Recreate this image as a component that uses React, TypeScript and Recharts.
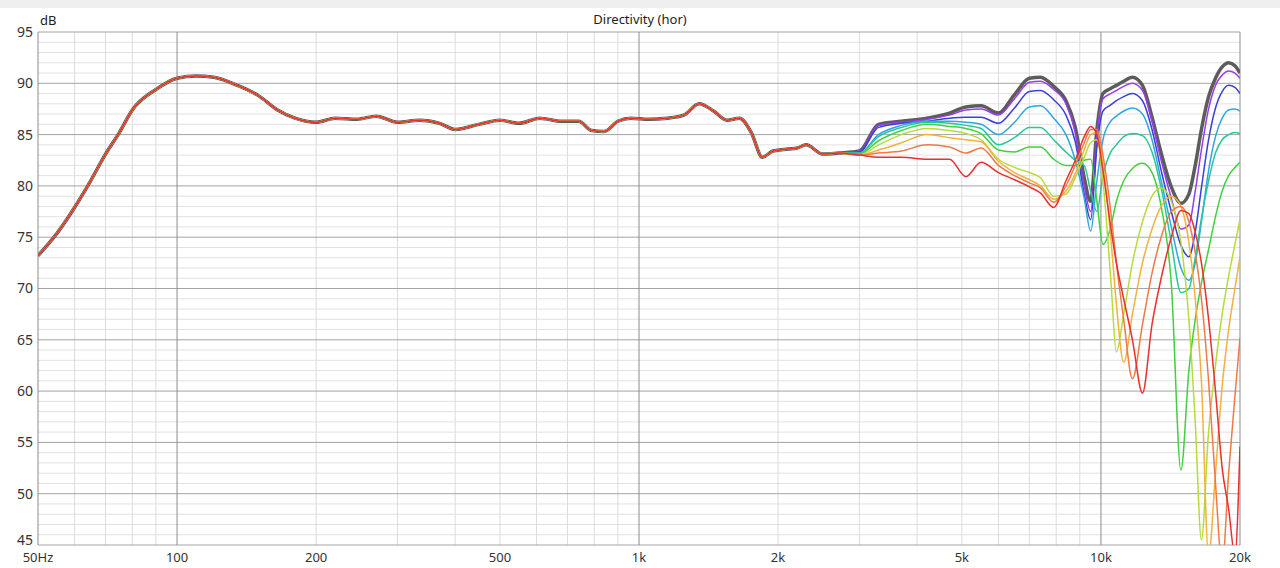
import { LineChart, Line, XAxis, YAxis, ReferenceLine } from "recharts"

// shared part below ~2.8k, where all angles overlap
const LOW_FREQS = [50, 55, 60, 65, 70, 75, 80, 90, 100, 110, 120, 135, 150, 165, 180, 200, 220, 245, 270, 300, 335, 370, 400, 450, 500, 550, 610, 680, 740, 790, 840, 900, 960, 1050, 1150, 1250, 1350, 1450, 1550, 1650, 1750, 1850, 1950, 2100, 2200, 2300, 2500, 2700]
const LOW_DB = [73.2, 75.4, 77.9, 80.5, 83.1, 85.2, 87.4, 89.4, 90.5, 90.7, 90.6, 89.8, 88.8, 87.4, 86.6, 86.2, 86.6, 86.5, 86.8, 86.2, 86.4, 86.1, 85.5, 86.0, 86.4, 86.1, 86.6, 86.3, 86.3, 85.4, 85.3, 86.3, 86.6, 86.5, 86.6, 86.9, 88.0, 87.3, 86.4, 86.6, 85.2, 82.8, 83.4, 83.6, 83.7, 84.0, 83.1, 83.2]

const HIGH_FREQS = [3000, 3300, 3700, 4200, 4700, 5100, 5500, 6000, 6500, 7000, 7400, 7900, 8400, 8800, 9200, 9500, 9800, 10100, 10500, 10800, 11200, 11700, 12300, 12900, 13500, 14200, 14900, 15500, 16000, 16500, 17100, 17700, 18300, 18900, 19500, 20000]

const DEG_0 = [83.4, 86.0, 86.3, 86.6, 87.1, 87.7, 87.8, 87.1, 88.9, 90.5, 90.6, 89.7, 88.3, 85.7, 80.8, 78.5, 85.5, 89.0, 89.5, 89.8, 90.2, 90.6, 89.8, 86.7, 83.2, 79.9, 78.3, 79.2, 82.0, 85.5, 88.7, 90.5, 91.6, 92.0, 91.7, 91.0]
const DEG_10 = [83.4, 85.9, 86.2, 86.5, 86.9, 87.4, 87.5, 86.9, 88.5, 90.1, 90.2, 89.4, 88.0, 85.2, 80.0, 77.5, 85.0, 88.5, 89.0, 89.3, 89.7, 90.0, 89.3, 86.3, 82.5, 78.8, 75.8, 76.2, 79.5, 83.5, 87.5, 89.8, 90.8, 91.2, 91.0, 90.5]
const DEG_20 = [83.3, 85.7, 86.1, 86.3, 86.6, 86.7, 86.7, 86.1, 87.6, 89.2, 89.3, 88.4, 86.9, 84.3, 79.2, 76.7, 83.8, 87.3, 87.9, 88.3, 88.7, 89.0, 88.3, 85.5, 81.5, 77.5, 74.2, 73.1, 75.5, 79.8, 84.5, 87.6, 89.2, 89.8, 89.6, 89.0]
const DEG_30 = [83.2, 85.0, 85.9, 86.3, 86.3, 86.2, 86.0, 85.0, 86.2, 87.7, 87.8, 86.6, 85.0, 82.5, 78.8, 75.6, 80.5, 84.5, 86.3, 86.8, 87.3, 87.6, 87.0, 84.5, 80.5, 76.0, 72.0, 70.8, 72.5, 76.5, 81.5, 84.8, 86.6, 87.4, 87.5, 87.3]
const DEG_40 = [83.2, 84.8, 85.7, 86.2, 86.1, 85.9, 85.6, 84.0, 84.7, 85.7, 85.7, 84.5, 83.3, 82.5, 82.0, 79.5, 77.5, 81.0, 83.3, 84.0, 84.8, 85.1, 84.9, 83.3, 79.8, 74.5, 69.6, 70.0, 73.0, 76.8, 80.5, 83.2, 84.5, 85.0, 85.2, 85.1]
const DEG_50 = [83.1, 84.4, 85.4, 86.0, 85.8, 85.6, 85.1, 83.5, 83.3, 83.8, 83.8, 82.6, 82.0, 82.0, 82.5, 82.6, 78.5, 74.3, 76.0, 78.5, 80.5, 81.7, 82.2, 81.3, 78.0, 70.5, 52.3, 62.0, 67.0, 70.5, 73.8, 77.0, 79.5, 81.0, 81.8, 82.3]
const DEG_60 = [83.0, 84.0, 85.0, 85.6, 85.4, 85.1, 84.5, 82.6, 81.8, 81.3, 80.8, 79.0, 79.2, 80.8, 82.8, 84.2, 84.5, 80.5, 71.0, 63.8, 67.5, 72.5, 76.5, 79.0, 79.8, 78.5, 74.5, 67.0, 57.0, 45.5, 56.0, 62.5, 67.5, 71.2, 74.3, 76.7]
const DEG_70 = [83.0, 83.5, 84.2, 85.0, 84.7, 84.5, 84.3, 82.4, 81.3, 80.6, 80.0, 78.7, 79.5, 81.2, 83.5, 85.0, 85.2, 82.0, 75.0, 68.5, 62.8, 67.5, 72.5, 75.8, 78.0, 79.0, 78.0, 74.5, 69.0, 61.0, 44.0, 52.0, 60.5, 66.0, 70.0, 73.1]
const DEG_80 = [83.0, 83.2, 83.4, 84.0, 83.8, 83.2, 83.7, 82.0, 81.0, 80.3, 79.8, 78.4, 80.0, 82.0, 84.2, 85.5, 85.5, 83.0, 77.5, 72.5, 67.0, 61.2, 66.5, 71.5, 75.0, 77.5, 78.0, 76.5, 73.5, 69.0, 61.0, 51.0, 43.0, 52.0, 59.5, 65.2]
const DEG_90 = [83.0, 82.8, 82.8, 82.6, 82.6, 80.9, 82.3, 81.3, 80.6, 79.9, 79.3, 77.9, 80.5, 82.5, 84.8, 85.8, 85.0, 81.5, 76.0, 72.5, 69.0, 65.0, 59.8, 66.5, 71.0, 75.0, 77.6, 77.3, 75.5, 72.5, 67.0, 60.0, 52.5, 48.5, 44.0, 54.6]

const SERIES = [
  { key: "d0", values: DEG_0, color: "#5c5c5c", width: 3.5 },
  { key: "d10", values: DEG_10, color: "#9b3cf0", width: 1.5 },
  { key: "d20", values: DEG_20, color: "#3b3fd6", width: 1.5 },
  { key: "d30", values: DEG_30, color: "#2ea6e0", width: 1.5 },
  { key: "d40", values: DEG_40, color: "#26c79c", width: 1.5 },
  { key: "d50", values: DEG_50, color: "#3fd13f", width: 1.5 },
  { key: "d60", values: DEG_60, color: "#b6dc3a", width: 1.5 },
  { key: "d70", values: DEG_70, color: "#f2b23c", width: 1.5 },
  { key: "d80", values: DEG_80, color: "#f07a45", width: 1.5 },
  { key: "d90", values: DEG_90, color: "#e8302c", width: 1.5 },
]

const X_TICKS = [50, 100, 200, 500, 1000, 2000, 5000, 10000, 20000]
const X_LABELS = ["50Hz", "100", "200", "500", "1k", "2k", "5k", "10k", "20k"]
const X_MINOR = [60, 70, 80, 90, 200, 300, 400, 500, 600, 700, 800, 900, 2000, 3000, 4000, 5000, 6000, 7000, 8000, 9000]
const X_MAJOR = [100, 1000, 10000]
const Y_TICKS = [45, 50, 55, 60, 65, 70, 75, 80, 85, 90, 95]
const Y_MINOR = Array.from({ length: 49 }, (_, i) => 46 + i).filter((v) => v % 5 !== 0)

const FREQS = [...LOW_FREQS, ...HIGH_FREQS]
const data = FREQS.map((f, i) => {
  const row: Record<string, number> = { f }
  SERIES.forEach((s) => {
    row[s.key] = i < LOW_FREQS.length ? LOW_DB[i] : s.values[i - LOW_FREQS.length]
  })
  return row
})

const font = "'Noto Sans', 'DejaVu Sans', sans-serif"

// y labels: the bottom one sits a little higher so it clears "50Hz"
function YTick(props: any) {
  const { x, y, payload } = props
  const shift = payload.value === 45 ? -5 : 0
  return (
    <text x={x} y={y + shift} dy="0.35em" textAnchor="end" fill="#333" fontSize={14} fontFamily={font}>
      {payload.value}
    </text>
  )
}

export default function App() {
  return (
    <div style={{ position: "fixed", left: 0, top: 0, width: 1280, height: 568, background: "#fff", fontFamily: font }}>
      <div style={{ position: "absolute", left: 0, top: 0, width: 1280, height: 8, background: "#efefef" }} />
      <div style={{ position: "absolute", left: 0, width: 1280, top: 10, textAlign: "center", fontSize: 13, color: "#222" }}>
        Directivity (hor)
      </div>
      <div style={{ position: "absolute", left: 40, top: 11, fontSize: 13, color: "#222" }}>dB</div>
      <LineChart width={1280} height={568} data={data} margin={{ top: 32, right: 40, bottom: 0, left: 0 }}>
        <XAxis
          dataKey="f"
          type="number"
          scale="log"
          domain={[50, 20000]}
          allowDataOverflow
          ticks={X_TICKS}
          tickFormatter={(v) => X_LABELS[X_TICKS.indexOf(v)] ?? ""}
          tick={{ fill: "#333", fontSize: 13, fontFamily: font }}
          tickLine={false}
          axisLine={false}
          tickSize={0}
          tickMargin={8}
          height={23}
          interval={0}
        />
        <YAxis
          type="number"
          domain={[45, 95]}
          allowDataOverflow
          ticks={Y_TICKS}
          tick={<YTick />}
          tickLine={false}
          axisLine={false}
          tickSize={0}
          tickMargin={5}
          width={38}
          interval={0}
        />
        {Y_MINOR.map((v) => (
          <ReferenceLine key={"ym" + v} y={v} stroke="#e2e2e2" strokeWidth={1} />
        ))}
        {X_MINOR.map((v) => (
          <ReferenceLine key={"xm" + v} x={v} stroke="#dcdcdc" strokeWidth={1} />
        ))}
        {Y_TICKS.map((v) => (
          <ReferenceLine key={"yM" + v} y={v} stroke="#a4a4a4" strokeWidth={1} />
        ))}
        {X_MAJOR.map((v) => (
          <ReferenceLine key={"xM" + v} x={v} stroke="#8c8c8c" strokeWidth={1} />
        ))}
        <ReferenceLine x={50} stroke="#8c8c8c" />
        <ReferenceLine x={20000} stroke="#8c8c8c" />
        {SERIES.map((s) => (
          <Line
            key={s.key}
            dataKey={s.key}
            type="monotone"
            stroke={s.color}
            strokeWidth={s.width}
            dot={false}
            isAnimationActive={false}
          />
        ))}
      </LineChart>
    </div>
  )
}
